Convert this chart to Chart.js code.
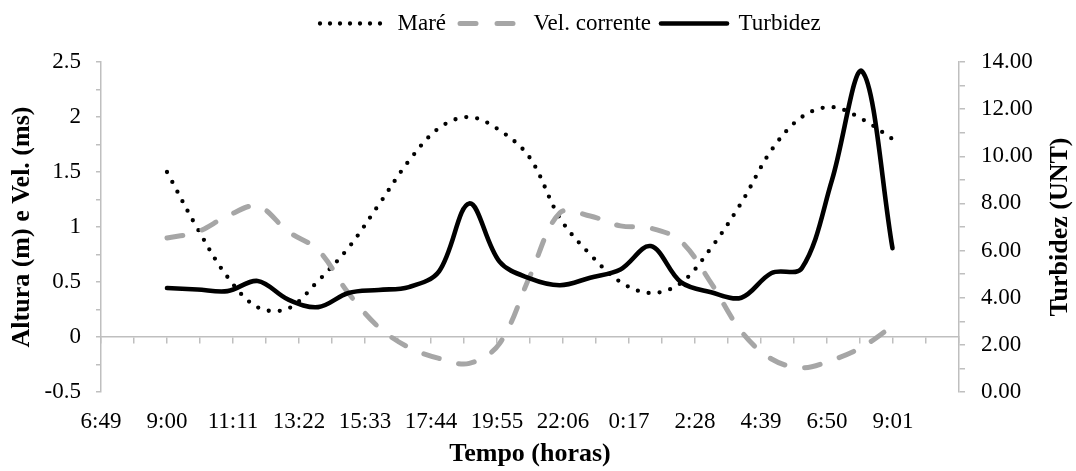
<!DOCTYPE html>
<html>
<head>
<meta charset="utf-8">
<script src="https://cdn.jsdelivr.net/npm/chart.js@4.4.1/dist/chart.umd.min.js"></script>
<style>
  html, body { margin: 0; padding: 0; background: #ffffff; }
  #wrap { position: relative; width: 1076px; height: 471px; }
</style>
</head>
<body>
<div id="wrap"><canvas id="c"></canvas></div>
<script>
// ---- data ----
const sampleTimes = ['9:00','10:00','11:00','12:00','13:00','14:00','15:00','16:00','17:00','18:00','19:00','20:00',
  '21:00','22:00','23:00','0:00','1:00','2:00','3:00','4:00','5:00','6:00','7:00','8:00','9:00'];
const mare = [1.50, 0.99, 0.546, 0.27, 0.258, 0.51, 0.81, 1.20, 1.60, 1.90, 2.00, 1.88,
  1.63, 1.08, 0.75, 0.50, 0.40, 0.49, 0.81, 1.22, 1.70, 2.00, 2.09, 1.98, 1.80];
const velCorrente = [0.90, 0.955, 1.10, 1.19, 0.96, 0.79, 0.40, 0.09, -0.095, -0.195, -0.24, -0.06,
  0.55, 1.13, 1.10, 1.01, 0.99, 0.87, 0.49, 0.05, -0.20, -0.28, -0.21, -0.09, 0.10];
const turbidez = [4.41, 4.35, 4.28, 4.71, 3.93, 3.60, 4.20, 4.33, 4.45, 5.12, 8.00, 5.53,
  4.82, 4.53, 4.85, 5.20, 6.19, 4.66, 4.23, 4.00, 5.05, 5.25, 9.00, 13.6, 6.10];
const seriesNames = ['Maré', 'Vel. corrente', 'Turbidez'];
const xTickLabels = ['6:49','9:00','11:11','13:22','15:33','17:44','19:55','22:06','0:17','2:28','4:39','6:50','9:01'];
const xAxisEnd = '11:12';
const leftAxis = { min: -0.5, max: 2.5, labelStep: 0.5, minorStep: 0.25 };
const rightAxis = { min: 0, max: 14, labelStep: 2, minorStep: 1 };
const xTitle = 'Tempo (horas)';
const leftTitle = 'Altura (m) e Vel. (ms)';
const rightTitle = 'Turbidez (UNT)';

// ---- helpers ----
function toMinutes(list) {
  let day = 0, prev = -Infinity;
  return list.map(s => {
    const [h, m] = s.split(':').map(Number);
    let v = h * 60 + m + day * 1440;
    if (v < prev) { day++; v += 1440; }
    prev = v;
    return v;
  });
}
const sampleX = toMinutes(sampleTimes);
const axisVals = toMinutes(xTickLabels.concat([xAxisEnd]));
const xMin = axisVals[0], xMax = axisVals[axisVals.length - 1];
const xMajor = axisVals.slice(0, xTickLabels.length);
const xAll = [];
for (let i = 0; i < axisVals.length; i++) {
  xAll.push(axisVals[i]);
  if (i < axisVals.length - 1) xAll.push((axisVals[i] + axisVals[i + 1]) / 2);
}
function stepTicks(a) {
  const out = [];
  const n = Math.round((a.max - a.min) / a.minorStep);
  for (let i = 0; i <= n; i++) out.push(+(a.min + i * a.minorStep).toFixed(6));
  return out;
}
const pts = arr => arr.map((v, i) => ({ x: sampleX[i], y: v }));
const isMajor = (v, step) => Math.abs(v / step - Math.round(v / step)) < 1e-6;

const GRAY_AXIS = '#BFBFBF';
const GRAY_LINE = '#A6A6A6';
const FONT = '"Liberation Serif", "Times New Roman", serif';
Chart.defaults.font.family = FONT;
Chart.defaults.color = '#000';

const seriesStyle = [
  { color: '#000', width: 4.3, dash: [0, 11], legendDash: [0, 10], legendOffset: 0 },
  { color: GRAY_LINE, width: 5, dash: [16, 20], legendDash: [16, 21], legendOffset: 33 },
  { color: '#000', width: 4.6, dash: [], legendDash: [], legendOffset: 0 }
];

const legendPlace = {
  id: 'legendPlace',
  beforeLayout(chart) {
    const lg = chart.legend;
    if (lg && !lg.__patched) {
      const f = lg.fit;
      lg.fit = function () { f.call(this); this.height = 62; };
      lg.__patched = true;
    }
  },
  afterLayout(chart) {
    const lg = chart.legend;
    if (lg) {
      const w = lg.width;
      lg.left = 310; lg.right = lg.left + w;
      lg.top = 2; lg.bottom = lg.top + 62;
    }
  }
};

const rightTitlePlugin = {
  id: 'rightTitle',
  afterDraw(chart) {
    const s = chart.scales.y1;
    const c = chart.ctx;
    c.save();
    c.translate(s.right - 16, (s.top + s.bottom) / 2);
    c.rotate(-Math.PI / 2);
    c.font = 'bold 26px ' + FONT;
    c.fillStyle = '#000';
    c.textAlign = 'center';
    c.textBaseline = 'middle';
    c.fillText(rightTitle, 0, 0);
    c.restore();
  }
};

const seriesData = [mare, velCorrente, turbidez];
const axisIds = ['y', 'y', 'y1'];
const orders = [2, 1, 0];

new Chart(document.getElementById('c'), {
  type: 'line',
  data: {
    datasets: seriesNames.map((name, i) => ({
      label: name,
      data: pts(seriesData[i]),
      xAxisID: 'x',
      yAxisID: axisIds[i],
      borderColor: seriesStyle[i].color,
      borderWidth: seriesStyle[i].width,
      borderDash: seriesStyle[i].dash,
      borderCapStyle: 'round',
      borderJoinStyle: 'round',
      pointRadius: 0,
      pointHoverRadius: 0,
      tension: 0.35,
      fill: false,
      order: orders[i]
    }))
  },
  options: {
    responsive: true,
    maintainAspectRatio: false,
    animation: false,
    events: [],
    layout: { padding: 0 },
    plugins: {
      tooltip: { enabled: false },
      legend: {
        position: 'top',
        align: 'start',
        labels: {
          usePointStyle: true,
          pointStyleWidth: 66,
          padding: 10,
          font: { size: 23 },
          color: '#000',
          generateLabels: () => seriesNames.map((name, i) => ({
            text: name,
            fillStyle: 'rgba(0,0,0,0)',
            strokeStyle: seriesStyle[i].color,
            lineWidth: seriesStyle[i].width,
            lineDash: seriesStyle[i].legendDash,
            lineDashOffset: seriesStyle[i].legendOffset,
            lineCap: 'round',
            pointStyle: 'line',
            fontColor: '#000',
            hidden: false,
            datasetIndex: i
          }))
        }
      }
    },
    scales: {
      x: {
        type: 'linear',
        position: { y: 0 },
        min: xMin, max: xMax,
        afterBuildTicks: s => { s.ticks = xAll.map(v => ({ value: v })); },
        ticks: { display: false },
        grid: { drawOnChartArea: false, drawTicks: true, tickLength: 6, color: GRAY_AXIS, lineWidth: 1.5 },
        border: { display: true, color: GRAY_AXIS, width: 1.5 }
      },
      x2: {
        type: 'linear',
        position: 'bottom',
        min: xMin, max: xMax,
        afterBuildTicks: s => { s.ticks = xMajor.map(v => ({ value: v })); },
        ticks: {
          autoSkip: false, maxRotation: 0, minRotation: 0, padding: 16,
          font: { size: 23 }, color: '#000',
          callback: (v, i) => xTickLabels[i]
        },
        grid: { display: false, drawTicks: false },
        border: { display: false },
        title: { display: true, text: xTitle, font: { size: 26, weight: 'bold' }, color: '#000', padding: { top: 0, bottom: 1 } },
        afterFit: s => { s.height = 79; }
      },
      y: {
        type: 'linear',
        position: 'left',
        min: leftAxis.min, max: leftAxis.max,
        afterBuildTicks: s => { s.ticks = stepTicks(leftAxis).map(v => ({ value: v })); },
        ticks: {
          autoSkip: false, padding: 15, font: { size: 23 }, color: '#000',
          callback: v => isMajor(v, leftAxis.labelStep) ? String(Math.round(v * 10) / 10) : ''
        },
        grid: { drawOnChartArea: false, drawTicks: true, tickLength: 5, color: GRAY_AXIS, lineWidth: 1.5 },
        border: { display: true, color: GRAY_AXIS, width: 1.5 },
        title: { display: true, text: leftTitle, font: { size: 26, weight: 'bold' }, color: '#000', padding: { top: 7, bottom: 0 } },
        afterFit: s => { s.width = 101; }
      },
      y1: {
        type: 'linear',
        position: 'right',
        min: rightAxis.min, max: rightAxis.max,
        afterBuildTicks: s => { s.ticks = stepTicks(rightAxis).map(v => ({ value: v })); },
        ticks: {
          autoSkip: false, padding: 16, font: { size: 23 }, color: '#000',
          callback: v => isMajor(v, rightAxis.labelStep) ? v.toFixed(2) : ''
        },
        grid: { drawOnChartArea: false, drawTicks: true, tickLength: 6, color: GRAY_AXIS, lineWidth: 1.5 },
        border: { display: true, color: GRAY_AXIS, width: 1.5 },
        afterFit: s => { s.width = 117; }
      }
    }
  },
  plugins: [legendPlace, rightTitlePlugin]
});
</script>
</body>
</html>
